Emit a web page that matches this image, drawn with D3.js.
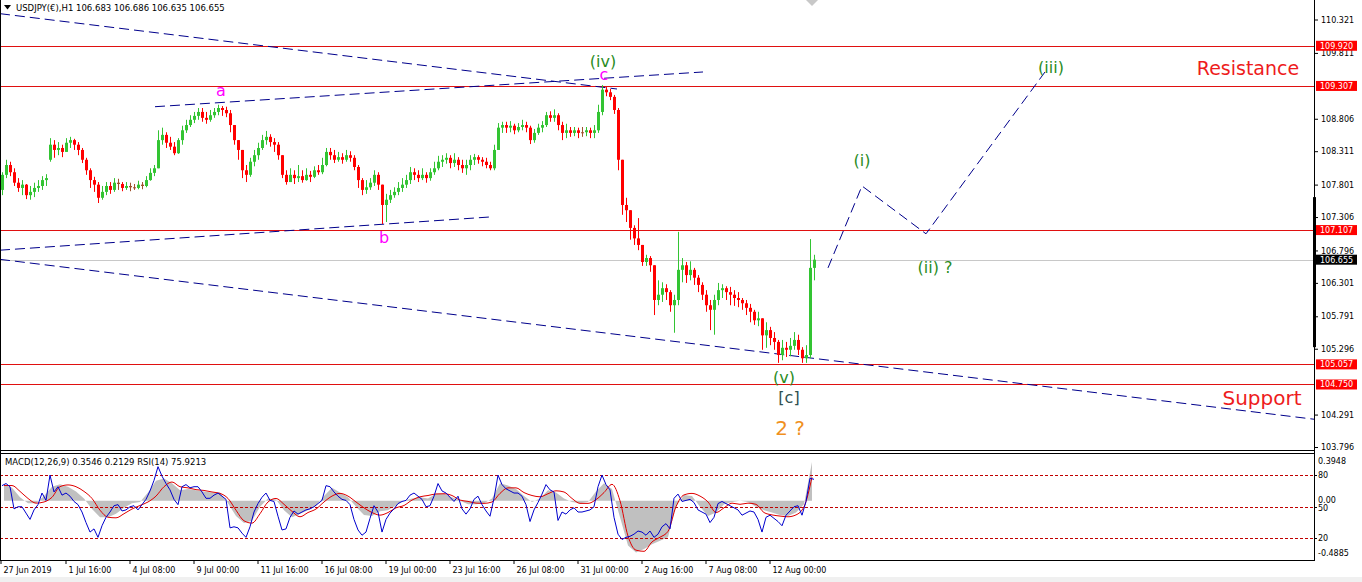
<!DOCTYPE html>
<html><head><meta charset="utf-8">
<script src="https://cdn.jsdelivr.net/npm/d3@7"></script>
<style>body{margin:0;background:#fff;}svg{display:block;}</style>
</head><body>
<svg id="chart" width="1362" height="582"></svg>
<script>
// ---------------- DATA ----------------
const symbolTitle = "USDJPY(€),H1";
const lastBarOHLC = ["106.683", "106.686", "106.635", "106.655"];
const indicatorTitle = "MACD(12,26,9) 0.3546 0.2129  RSI(14) 75.9213";
const barsPerCandle = 4;          // each candle below = 4 hourly bars
const barsPerMacdPoint = 8;       // MACD samples every 8 hourly bars

const open = [
107.72,107.95,108.10,107.99,107.83,107.75,107.80,107.64,107.69,107.75,
107.78,107.87,108.18,108.41,108.33,108.36,108.30,108.44,108.48,108.41,
108.33,108.18,108.02,107.87,107.80,107.60,107.69,107.78,107.72,107.83,
107.81,107.75,107.78,107.76,107.75,107.80,107.78,107.87,107.98,108.05,
108.48,108.56,108.44,108.38,108.28,108.48,108.63,108.71,108.79,108.85,
108.91,108.82,108.79,108.86,108.91,108.97,108.94,108.89,108.71,108.48,
108.33,108.02,107.95,108.15,108.25,108.36,108.48,108.53,108.45,108.41,
108.25,107.95,107.84,107.95,107.90,107.93,107.87,107.95,107.92,108.02,
107.99,108.10,108.30,108.25,108.18,108.22,108.18,108.25,108.21,108.07,
107.87,107.72,107.76,107.83,107.95,107.80,107.49,107.57,107.64,107.69,
107.75,107.80,107.87,107.99,107.95,107.90,107.95,107.90,107.99,108.05,
108.15,108.18,108.21,108.13,108.18,108.10,108.05,108.10,108.18,108.22,
108.18,108.15,108.10,108.05,108.33,108.67,108.71,108.67,108.70,108.63,
108.68,108.71,108.67,108.48,108.59,108.67,108.71,108.86,108.82,108.86,
108.71,108.59,108.63,108.59,108.63,108.59,108.60,108.63,108.59,108.63,
108.91,109.25,109.21,109.14,108.94,108.18,107.49,107.41,107.14,106.98,
106.88,106.62,106.68,106.57,106.04,106.12,106.22,106.16,105.96,106.04,
106.50,106.57,106.42,106.50,106.38,106.27,106.12,105.96,105.89,106.04,
106.19,106.22,106.16,106.12,106.07,106.04,105.99,105.92,105.86,105.73,
105.76,105.50,105.58,105.46,105.40,105.20,105.31,105.28,105.34,105.43,
105.28,105.15,105.20,106.53];
const high = [
107.99,108.18,108.15,108.05,107.90,107.87,107.81,107.78,107.83,107.87,
107.93,107.96,108.51,108.48,108.45,108.41,108.51,108.53,108.50,108.45,
108.36,108.21,108.05,107.92,107.84,107.78,107.84,107.84,107.90,107.89,
107.84,107.84,107.83,107.81,107.86,107.84,107.93,108.05,108.10,108.63,
108.67,108.60,108.53,108.45,108.51,108.70,108.79,108.86,108.91,108.97,
108.97,108.91,108.94,108.97,109.02,109.00,108.99,108.94,108.71,108.48,
108.33,108.10,108.21,108.33,108.44,108.56,108.62,108.57,108.51,108.45,
108.25,108.02,108.05,108.02,108.10,108.02,108.05,108.01,108.08,108.10,
108.21,108.36,108.36,108.33,108.30,108.28,108.33,108.31,108.25,108.10,
107.90,107.87,107.90,108.02,107.99,107.80,107.66,107.72,107.76,107.84,
107.90,107.95,108.07,108.05,108.02,108.05,107.99,108.05,108.15,108.24,
108.25,108.28,108.25,108.28,108.22,108.18,108.18,108.25,108.27,108.25,
108.22,108.21,108.15,108.41,108.74,108.76,108.76,108.77,108.73,108.74,
108.79,108.76,108.70,108.65,108.73,108.77,108.91,108.92,108.95,108.89,
108.76,108.73,108.68,108.68,108.67,108.68,108.68,108.67,108.71,109.02,
109.32,109.29,109.26,109.17,108.97,108.18,107.60,107.41,107.18,107.29,
106.88,106.73,106.71,106.57,106.34,106.31,106.28,106.19,106.12,107.08,
106.68,106.62,106.63,106.53,106.42,106.31,106.19,106.04,106.12,106.30,
106.28,106.25,106.24,106.19,106.16,106.07,106.04,105.98,105.89,105.86,
105.76,105.70,105.63,105.55,105.43,105.43,105.40,105.46,105.55,105.51,
105.32,105.35,106.97,106.73];
const low = [
107.64,107.90,107.93,107.78,107.69,107.64,107.58,107.57,107.61,107.69,
107.72,107.78,108.15,108.21,108.25,108.22,108.30,108.36,108.33,108.25,
108.13,107.95,107.75,107.69,107.52,107.57,107.64,107.66,107.69,107.72,
107.70,107.72,107.70,107.72,107.73,107.73,107.76,107.86,107.93,108.05,
108.41,108.36,108.33,108.25,108.27,108.41,108.59,108.68,108.74,108.79,
108.76,108.73,108.76,108.82,108.86,108.85,108.83,108.60,108.41,108.18,
107.90,107.84,107.92,108.08,108.18,108.33,108.41,108.38,108.30,108.18,
107.90,107.80,107.84,107.81,107.84,107.83,107.86,107.84,107.90,107.95,
107.96,108.08,108.18,108.13,108.15,108.12,108.15,108.15,108.02,107.75,
107.64,107.66,107.72,107.78,107.72,107.20,107.23,107.52,107.60,107.64,
107.69,107.75,107.81,107.87,107.84,107.87,107.83,107.86,107.95,108.02,
108.07,108.12,108.05,108.07,108.02,107.98,107.95,108.02,108.10,108.12,
108.08,108.05,108.02,108.02,108.33,108.59,108.59,108.60,108.57,108.60,
108.63,108.60,108.42,108.44,108.56,108.60,108.68,108.76,108.76,108.63,
108.48,108.51,108.53,108.54,108.51,108.53,108.54,108.51,108.51,108.59,
108.86,109.15,109.09,108.88,108.02,107.34,107.23,106.96,106.88,106.80,
106.56,106.56,106.47,105.81,105.96,106.01,106.04,105.86,105.54,105.96,
106.31,106.30,106.34,106.27,106.16,106.04,105.86,105.58,105.51,105.96,
106.07,106.04,105.96,105.95,105.93,105.89,105.81,105.70,105.66,105.64,
105.28,105.31,105.35,105.28,105.08,105.12,105.17,105.18,105.28,105.20,
105.08,105.08,105.15,106.34];
const close = [
107.95,108.10,107.99,107.83,107.75,107.80,107.64,107.69,107.75,107.78,
107.87,107.90,108.41,108.33,108.36,108.30,108.44,108.48,108.41,108.33,
108.18,108.02,107.87,107.80,107.60,107.69,107.78,107.72,107.83,107.81,
107.75,107.78,107.76,107.75,107.80,107.78,107.87,107.98,108.05,108.48,
108.56,108.44,108.38,108.28,108.48,108.63,108.71,108.79,108.85,108.91,
108.82,108.79,108.86,108.91,108.97,108.94,108.89,108.71,108.48,108.33,
108.02,107.95,108.15,108.25,108.36,108.48,108.53,108.45,108.41,108.25,
107.95,107.84,107.95,107.90,107.93,107.87,107.95,107.92,108.02,107.99,
108.10,108.30,108.25,108.18,108.22,108.18,108.25,108.21,108.07,107.87,
107.72,107.76,107.83,107.95,107.80,107.49,107.57,107.64,107.69,107.75,
107.80,107.87,107.99,107.95,107.90,107.95,107.90,107.99,108.05,108.15,
108.18,108.21,108.13,108.18,108.10,108.05,108.10,108.18,108.22,108.18,
108.15,108.10,108.05,108.33,108.67,108.71,108.67,108.70,108.63,108.68,
108.71,108.67,108.48,108.59,108.67,108.71,108.86,108.82,108.86,108.71,
108.59,108.63,108.59,108.63,108.59,108.60,108.63,108.59,108.63,108.91,
109.25,109.21,109.14,108.94,108.18,107.49,107.41,107.14,106.98,106.88,
106.62,106.68,106.57,106.04,106.12,106.22,106.16,105.96,106.04,106.50,
106.57,106.42,106.50,106.38,106.27,106.12,105.96,105.89,106.04,106.19,
106.22,106.16,106.12,106.07,106.04,105.99,105.92,105.86,105.73,105.76,
105.50,105.58,105.46,105.40,105.20,105.31,105.28,105.34,105.43,105.28,
105.15,105.20,106.53,106.655];

const rsi = [
70,72,69,48,50,50,44,38,47,52, 63,56,80,64,69,61,63,60,55,52,
45,35,26,29,21,32,40,45,51,52, 46,47,50,51,47,52,57,65,75,88,
79,72,66,57,52,69,71,68,69,69, 64,58,58,61,63,60,57,30,31,30,
25,21,31,45,53,59,63,56,55,41, 28,29,40,46,43,45,47,48,50,53,
56,70,69,64,60,57,56,52,38,28, 23,26,39,51,45,26,38,44,48,53,
55,56,61,63,60,57,50,51,60,72, 65,63,59,55,60,48,43,48,57,60,
52,46,41,58,80,71,67,65,63,63, 60,52,36,47,54,62,71,66,64,37,
45,43,47,49,45,45,46,47,50,69, 80,71,66,40,24,19,21,22,24,27,
26,23,27,21,24,31,34,29,58,62, 55,56,57,54,47,45,43,35,40,53,
55,53,51,49,47,42,44,46,45,38, 26,40,42,39,36,32,42,46,50,51,
42,55,77,76];

const macdHist = [
0.14,0.11,0.03,-0.02,-0.02,0.04,0.12,0.14,0.12,0.08,
0.02,-0.07,-0.14,-0.14,-0.11,-0.06,-0.02,-0.01,0.07,0.17,
0.19,0.15,0.09,0.10,0.09,0.08,0.07,0.07,-0.02,-0.13,
-0.19,-0.17,-0.05,0.02,0.01,-0.08,-0.14,-0.11,-0.08,-0.04,
0.04,0.11,0.07,0.03,-0.05,-0.12,-0.13,-0.09,-0.08,-0.04,
0.00,0.02,0.03,0.02,0.06,0.06,0.03,0.00,-0.03,-0.03,
-0.02,0.02,0.15,0.13,0.10,0.04,-0.01,0.02,0.09,0.07,
0.02,-0.01,-0.02,-0.01,0.08,0.15,0.10,-0.14,-0.38,-0.44,
-0.41,-0.37,-0.34,-0.31,-0.05,0.05,0.04,-0.05,-0.13,-0.10,
-0.03,-0.01,0.00,-0.01,-0.05,-0.08,-0.10,-0.12,-0.13,-0.10,
-0.03,0.33];
const macdSignal = [
0.13,0.13,0.08,0.02,-0.02,-0.01,0.03,0.12,0.135,0.12,
0.08,0.02,-0.08,-0.14,-0.145,-0.11,-0.07,-0.04,-0.01,0.04,
0.12,0.16,0.12,0.11,0.095,0.088,0.075,0.063,0.02,-0.08,
-0.17,-0.19,-0.11,-0.01,0.02,-0.03,-0.09,-0.136,-0.10,-0.07,
-0.01,0.04,0.063,0.04,-0.01,-0.06,-0.10,-0.122,-0.10,-0.06,
-0.04,0.006,0.034,0.045,0.058,0.06,0.045,0.006,-0.005,-0.02,
-0.022,-0.01,0.063,0.11,0.11,0.07,0.045,0.034,0.06,0.085,
0.075,0.02,-0.022,-0.022,0.01,0.07,0.14,0.00,-0.30,-0.42,
-0.43,-0.35,-0.31,-0.26,-0.05,0.05,0.063,0.04,-0.01,-0.10,
-0.06,-0.02,-0.03,-0.02,-0.03,-0.10,-0.12,-0.13,-0.136,-0.12,
-0.05,0.20];

const priceTicks = [110.321,109.811,108.806,108.311,107.801,107.306,106.796,106.301,105.791,105.296,104.291,103.796];
const priceDomain = [103.796, 110.321];
const levels = [109.920, 109.307, 107.107, 105.057, 104.750];
const currentPrice = 106.655;
const macdRange = [-0.4885, 0.3948];
const rsiLevels = [80, 50, 20];

const timeLabels = ["27 Jun 2019","1 Jul 16:00","4 Jul 08:00","9 Jul 00:00","11 Jul 16:00","16 Jul 08:00","19 Jul 00:00","23 Jul 16:00","26 Jul 08:00","31 Jul 00:00","2 Aug 16:00","7 Aug 08:00","12 Aug 00:00"];
const timeLabelBars = [0,65,129,193,257,321,385,449,513,577,641,705,769];

// trend lines: [bar1, price1, bar2, price2]
const trendLines = [
  [0, 110.41, 617, 109.26],
  [155, 108.99, 703, 109.52],
  [0, 106.80, 493, 107.31],
  [0, 106.66, 1314, 104.22]
];
// projected wave path
const projBars = [828, 862, 926, 1045];
const projPrices = [106.53, 107.78, 107.05, 109.52];

// wave labels [text, bar, price(baseline), kind]
const waveLabels = [
  ["a", 221, 109.15, "abc"], ["b", 384, 106.91, "abc"], ["c", 604, 109.39, "abc"],
  ["(iv)", 603, 109.59, "wave"], ["(v)", 784, 104.77, "wave"], ["[c]", 789, 104.47, "major"],
  ["2 ?", 790, 103.98, "primary"], ["(i)", 862, 108.08, "wave"], ["(ii) ?", 935, 106.45, "wave"],
  ["(iii)", 1051, 109.50, "wave"]
];
const zoneLabels = [["Resistance", 1248, 109.47, 19], ["Support", 1262, 104.44, 20]];

// ---------------- DRAW ----------------
const W = 1362, H = 582, plotRight = 1314;
const mainBottom = 450, indTop = 454, indBottom = 559;
const svg = d3.select("#chart");
const FONT = "'DejaVu Sans', Tahoma, sans-serif";

const x = d3.scaleLinear().domain([0, plotRight]).range([0, plotRight]);
const y = d3.scaleLinear().domain(priceDomain).range([447, 19.5]);
const yR = d3.scaleLinear().domain([0, 100]).range([559.5, 454]);
const yM = d3.scaleLinear().domain(macdRange).range([558.2, 454.4]);

svg.append("rect").attr("width", W).attr("height", H).attr("fill", "#fff");
svg.append("rect").attr("y", 577).attr("width", W).attr("height", 5).attr("fill", "#f0f0f0");

const defs = svg.append("defs");
defs.append("clipPath").attr("id", "cm").append("rect").attr("x", 0).attr("y", 0).attr("width", plotRight).attr("height", mainBottom);
defs.append("clipPath").attr("id", "ci").append("rect").attr("x", 0).attr("y", indTop).attr("width", plotRight).attr("height", indBottom - indTop);

const main = svg.append("g").attr("clip-path", "url(#cm)");

// horizontal levels
main.selectAll("line.lvl").data(levels).join("line")
  .attr("x1", 0).attr("x2", plotRight)
  .attr("y1", d => Math.round(y(d)) + 0.5).attr("y2", d => Math.round(y(d)) + 0.5)
  .attr("stroke", "#e01010").attr("stroke-width", 1);
main.append("line").attr("x1", 0).attr("x2", plotRight)
  .attr("y1", Math.round(y(currentPrice)) + 0.5).attr("y2", Math.round(y(currentPrice)) + 0.5)
  .attr("stroke", "#c8c8c8");

// trend lines
main.selectAll("line.tl").data(trendLines).join("line")
  .attr("x1", d => x(d[0])).attr("y1", d => y(d[1]))
  .attr("x2", d => x(d[2])).attr("y2", d => y(d[3]))
  .attr("stroke", "#00008b").attr("stroke-width", 1).attr("stroke-dasharray", "10,5");

// candles
const candles = d3.range(close.length).map(i => ({i, o: open[i], h: high[i], l: low[i], c: close[i]}));
const colorOf = d => Math.abs(d.c - d.o) < 0.025 ? "#a0522d" : (d.c >= d.o ? "#33c433" : "#ff0000");
const cg = main.append("g");
cg.selectAll("line").data(candles).join("line")
  .attr("x1", d => x(d.i * barsPerCandle + 2) + 0.5).attr("x2", d => x(d.i * barsPerCandle + 2) + 0.5)
  .attr("y1", d => y(d.h)).attr("y2", d => y(d.l))
  .attr("stroke", colorOf).attr("stroke-width", 1);
cg.selectAll("rect").data(candles).join("rect")
  .attr("x", d => x(d.i * barsPerCandle + 1))
  .attr("width", x(3) - x(0))
  .attr("y", d => y(Math.max(d.o, d.c)))
  .attr("height", d => Math.max(1, Math.abs(y(d.o) - y(d.c))))
  .attr("fill", colorOf);

// projection path
main.append("path")
  .attr("d", d3.line()(projBars.map((b, k) => [x(b), y(projPrices[k])])))
  .attr("fill", "none").attr("stroke", "#00008b").attr("stroke-width", 1).attr("stroke-dasharray", "10,5");

// wave labels
const labelStyle = {
  abc: {fill: "#ff00ff", size: 16},
  wave: {fill: "#2a8c1e", size: 16},
  major: {fill: "#2f4f4f", size: 16},
  primary: {fill: "#f0901e", size: 20}
};
main.selectAll("text.wl").data(waveLabels).join("text")
  .attr("x", d => x(d[1])).attr("y", d => y(d[2]))
  .attr("text-anchor", "middle")
  .attr("font-family", FONT)
  .attr("font-size", d => labelStyle[d[3]].size)
  .attr("fill", d => labelStyle[d[3]].fill)
  .text(d => d[0]);
main.selectAll("text.zl").data(zoneLabels).join("text")
  .attr("x", d => x(d[1])).attr("y", d => y(d[2]))
  .attr("text-anchor", "middle").attr("font-family", FONT).attr("font-size", d => d[3])
  .attr("fill", "#ee1c1c").text(d => d[0]);

// chart shift marker
svg.append("path").attr("d", `M${x(806)},0 L${x(818)},0 L${x(812)},6 Z`).attr("fill", "#c8c8c8");

// header
svg.append("path").attr("d", "M4,5 L11,5 L7.5,9.5 Z").attr("fill", "#000");
svg.append("text").attr("x", 16).attr("y", 11).attr("font-family", FONT).attr("font-size", 8.5)
  .attr("fill", "#000").text(symbolTitle + "  " + lastBarOHLC.join(" "));

// indicator panel
const ind = svg.append("g").attr("clip-path", "url(#ci)");
const mx = k => x(k * barsPerMacdPoint + 4);
ind.append("path")
  .attr("d", d3.area().x((d, k) => mx(k)).y0(yM(0)).y1(d => yM(d))(macdHist))
  .attr("fill", "#c0c0c0");
ind.selectAll("line.rl").data(rsiLevels).join("line")
  .attr("x1", 0).attr("x2", plotRight)
  .attr("y1", d => Math.round(yR(d)) + 0.5).attr("y2", d => Math.round(yR(d)) + 0.5)
  .attr("stroke", "#c00000").attr("stroke-dasharray", "3,2");
ind.append("path")
  .attr("d", d3.line().x((d, k) => mx(k)).y(d => yM(d)).curve(d3.curveMonotoneX)(macdSignal))
  .attr("fill", "none").attr("stroke", "#e00000").attr("stroke-width", 1);
ind.append("path")
  .attr("d", d3.line().x((d, i) => x(i * barsPerCandle + 2)).y(d => yR(d))(rsi))
  .attr("fill", "none").attr("stroke", "#0000cd").attr("stroke-width", 1);
svg.append("text").attr("x", 5).attr("y", 465).attr("font-family", FONT).attr("font-size", 8.5)
  .attr("fill", "#000").text(indicatorTitle);

// frame lines
const frame = svg.append("g").attr("stroke", "#000").attr("stroke-width", 1);
frame.append("line").attr("x1", 0.5).attr("x2", 0.5).attr("y1", 0).attr("y2", 561);
frame.append("line").attr("x1", 0).attr("x2", plotRight + 1).attr("y1", 450.5).attr("y2", 450.5);
frame.append("line").attr("x1", 0).attr("x2", plotRight + 1).attr("y1", 453.5).attr("y2", 453.5);
frame.append("line").attr("x1", 0).attr("x2", plotRight + 1).attr("y1", 560.5).attr("y2", 560.5);
frame.append("line").attr("x1", plotRight + 0.5).attr("x2", plotRight + 0.5).attr("y1", 0).attr("y2", 561);
svg.append("rect").attr("x", plotRight - 1).attr("y", y(107.61)).attr("width", 3)
  .attr("height", y(105.32) - y(107.61)).attr("fill", "#000");

// right price axis
const ra = svg.append("g").attr("transform", `translate(${plotRight + 1},0)`)
  .call(d3.axisRight(y).tickValues(priceTicks).tickFormat(d3.format(".3f")).tickSize(3).tickPadding(3));
ra.select(".domain").remove();
ra.selectAll("text").attr("font-family", FONT).attr("font-size", 8).attr("fill", "#000");
ra.selectAll("line").attr("stroke", "#000");

// price level tags
const tags = svg.append("g");
levels.forEach(v => {
  const cy = y(v);
  tags.append("rect").attr("x", plotRight + 2).attr("y", cy - 5).attr("width", 41).attr("height", 10).attr("fill", "#ff0000");
  tags.append("text").attr("x", plotRight + 6).attr("y", cy + 3).attr("font-family", FONT).attr("font-size", 8)
    .attr("fill", "#fff").text(v.toFixed(3));
});
tags.append("rect").attr("x", plotRight + 2).attr("y", y(currentPrice) - 5).attr("width", 41).attr("height", 10).attr("fill", "#000");
tags.append("text").attr("x", plotRight + 6).attr("y", y(currentPrice) + 3).attr("font-family", FONT).attr("font-size", 8)
  .attr("fill", "#fff").text(currentPrice.toFixed(3));

// indicator axis labels
const indLabels = [
  [macdRange[1].toFixed(4), yM(macdRange[1]) + 10],
  ["80", yR(80) + 3], ["0.00", yM(0) + 2], ["50", yR(50) + 4], ["20", yR(20) + 3],
  [macdRange[0].toFixed(4), yM(macdRange[0]) - 2]
];
svg.selectAll("text.il").data(indLabels).join("text")
  .attr("x", plotRight + 4).attr("y", d => d[1]).attr("font-family", FONT).attr("font-size", 8)
  .attr("fill", "#000").text(d => d[0]);
svg.selectAll("line.it").data([yR(80), yR(50), yR(20)]).join("line")
  .attr("x1", plotRight + 1).attr("x2", plotRight + 3).attr("y1", d => Math.round(d) + 0.5).attr("y2", d => Math.round(d) + 0.5)
  .attr("stroke", "#000");

// time axis
const ba = svg.append("g").attr("transform", "translate(0,561)")
  .call(d3.axisBottom(x).tickValues(timeLabelBars).tickFormat((d, i) => timeLabels[i]).tickSize(3).tickPadding(3));
ba.select(".domain").remove();
ba.selectAll("line").attr("stroke", "#000").attr("transform", "translate(0.5,0)");
ba.selectAll("text").attr("text-anchor", "start").attr("dx", 3).attr("font-family", FONT).attr("font-size", 8).attr("fill", "#000");
</script>
</body></html>
